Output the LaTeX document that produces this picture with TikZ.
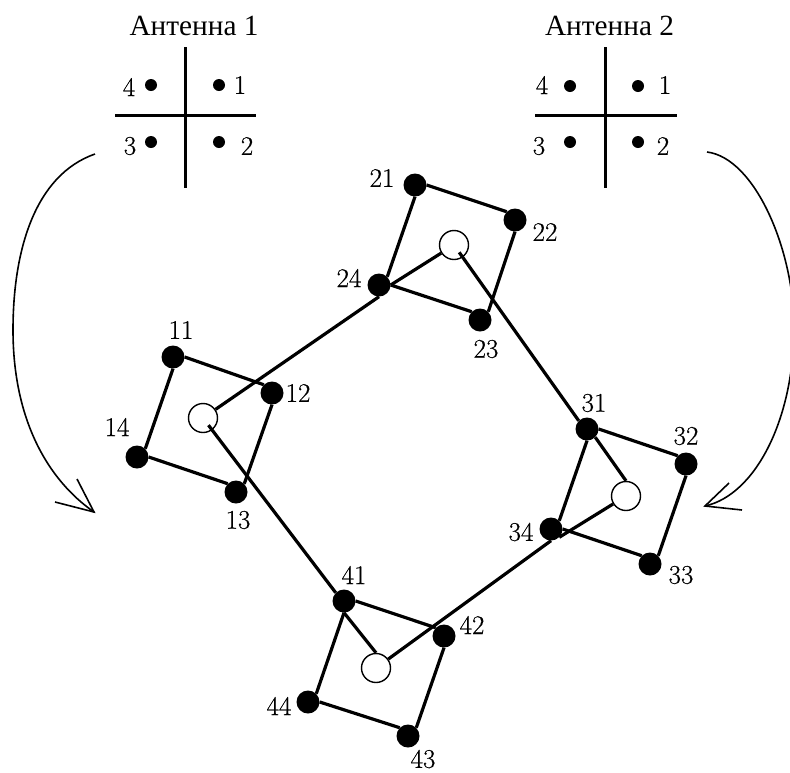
\documentclass[tikz,border=0pt]{standalone}
\usepackage{fontspec}
\newfontfamily\cyrfont{Liberation Serif}
\newfontfamily\numfont[FakeBold=0.5]{Latin Modern Roman}
\tikzset{
    elem/.style={circle,fill=black,inner sep=0pt,minimum size=23pt},
    hollow/.style={circle,draw,line width=1.4pt,fill=white,inner sep=0pt,minimum size=29pt},
    dotmark/.style={circle,fill=black,inner sep=0pt,minimum size=12pt},
    lbl/.style={inner sep=0pt,font=\fontsize{27}{29}\selectfont\numfont},
    ttl/.style={inner sep=0pt,font=\fontsize{29.3}{31}\selectfont\cyrfont},
    link/.style={line width=3.2pt},
    crossline/.style={line width=3pt},
    sweep/.style={line width=1.6pt}
}
\begin{document}
\begin{tikzpicture}[x=1pt,y=-1pt]
        \useasboundingbox (0,0) rectangle (790,772);
        %antenna 1
            \node[ttl] (ant1) at (194,26) {Антенна 1};
            \coordinate (a1t) at (185,47);
            \coordinate (a1b) at (185,188);
            \coordinate (a1l) at (115,115);
            \coordinate (a1r) at (256,115);
            \draw[crossline] (a1t) -- (a1b);
            \draw[crossline] (a1l) -- (a1r);
            \node[dotmark] (a1d4) at (151,85) {};
            \node[dotmark] (a1d1) at (219,85) {};
            \node[dotmark] (a1d3) at (151,142) {};
            \node[dotmark] (a1d2) at (219,142) {};
            \node[lbl] (a1n4) at (129,87) {4};
            \node[lbl] (a1n1) at (240,85) {1};
            \node[lbl] (a1n3) at (130,146) {3};
            \node[lbl] (a1n2) at (247,146) {2};
        %antenna 2
            \node[ttl] (ant2) at (609.5,26) {Антенна 2};
            \coordinate (a2t) at (605,47);
            \coordinate (a2b) at (605,188);
            \coordinate (a2l) at (535,115);
            \coordinate (a2r) at (677,115);
            \draw[crossline] (a2t) -- (a2b);
            \draw[crossline] (a2l) -- (a2r);
            \node[dotmark] (a2d4) at (570,86) {};
            \node[dotmark] (a2d1) at (638,86) {};
            \node[dotmark] (a2d3) at (570,142) {};
            \node[dotmark] (a2d2) at (638,142) {};
            \node[lbl] (a2n4) at (542,85) {4};
            \node[lbl] (a2n1) at (665,85) {1};
            \node[lbl] (a2n3) at (539,146) {3};
            \node[lbl] (a2n2) at (663,146) {2};
        %curved arrows
            \coordinate (s1) at (95,154);
            \coordinate (m1) at (13,330);
            \coordinate (e1) at (94,512);
            \coordinate (e1a) at (77,479);
            \coordinate (e1b) at (55,502);
            \draw[sweep] (s1) .. controls (35,175) and (13,250) .. (m1) .. controls (13,420) and (48,480) .. (e1);
            \draw[sweep] (e1a) -- (e1) -- (e1b);
            \coordinate (s2) at (707,152);
            \coordinate (m2) at (794,327);
            \coordinate (e2) at (705,506);
            \coordinate (e2a) at (729,483);
            \coordinate (e2b) at (742,510);
            \draw[sweep] (s2) .. controls (755,158) and (794,250) .. (m2) .. controls (794,420) and (755,495) .. (e2);
            \draw[sweep] (e2a) -- (e2) -- (e2b);
        %elements
            \node[elem] (n11) at (173,357) {};
            \node[elem] (n12) at (272,393) {};
            \node[elem] (n13) at (236,492) {};
            \node[elem] (n14) at (137,457) {};
            \node[hollow] (c1) at (203,418) {};
            \node[elem] (n21) at (415,185) {};
            \node[elem] (n22) at (515,220) {};
            \node[elem] (n23) at (480,320) {};
            \node[elem] (n24) at (379,285) {};
            \node[hollow] (c2) at (454,245) {};
            \node[elem] (n31) at (587,429) {};
            \node[elem] (n32) at (686,464) {};
            \node[elem] (n33) at (650,564) {};
            \node[elem] (n34) at (551,529) {};
            \node[hollow] (c3) at (626,496) {};
            \node[elem] (n41) at (344,601) {};
            \node[elem] (n42) at (444,636) {};
            \node[elem] (n43) at (408,736) {};
            \node[elem] (n44) at (308,702) {};
            \node[hollow] (c4) at (376,668) {};
        % squares
            \draw[link] (n11.east) -- (n12.north west);
            \draw[link] (n14.east) -- (n13.north west);
            \draw[link] (n11.south) -- (n14.north east);
            \draw[link] (n12.south) -- (n13.north east);
            \draw[link] (n21.east) -- (n22.north west);
            \draw[link] (n24.east) -- (n23.north west);
            \draw[link] (n21.south) -- (n24.north east);
            \draw[link] (n22.south) -- (n23.north east);
            \draw[link] (n31.east) -- (n32.north west);
            \draw[link] (n34.east) -- (n33.north west);
            \draw[link] (n31.south) -- (n34.north east);
            \draw[link] (n32.south) -- (n33.north east);
            \draw[link] (n41.east) -- (n42.north west);
            \draw[link] (n44.east) -- (n43.north west);
            \draw[link] (n41.south) -- (n44.north east);
            \draw[link] (n42.south) -- (n43.north east);
        % lines between arrays
            \draw[link] (c1) -- (n24.south);
            \draw[link] (c2) -- (n24.east);
            \draw[link,shorten >=9pt] (n31.north west) -- (c2.center);
            \draw[link] (n31.south east) -- (c3.north);
            \draw[link] (c3) -- (n34.south east);
            \draw[link] (c4) -- (n34.south);
            \draw[link] (n41.south) -- (c4.north);
            \draw[link,shorten >=9pt] (n41.north west) -- (c1.center);
        %labels
            \node[lbl] (t11) at (181,330) {11};
            \node[lbl] (t12) at (298,393) {12};
            \node[lbl] (t13) at (238,520) {13};
            \node[lbl] (t14) at (117,427) {14};
            \node[lbl] (t21) at (382,178) {21};
            \node[lbl] (t22) at (545,232) {22};
            \node[lbl] (t23) at (486,349) {23};
            \node[lbl] (t24) at (349,278) {24};
            \node[lbl] (t31) at (594,403) {31};
            \node[lbl] (t32) at (686,436) {32};
            \node[lbl] (t33) at (681,575) {33};
            \node[lbl] (t34) at (521,532) {34};
            \node[lbl] (t41) at (354,575) {41};
            \node[lbl] (t42) at (472,625) {42};
            \node[lbl] (t43) at (423,759) {43};
            \node[lbl] (t44) at (279,706) {44};
    \end{tikzpicture}
\end{document}
